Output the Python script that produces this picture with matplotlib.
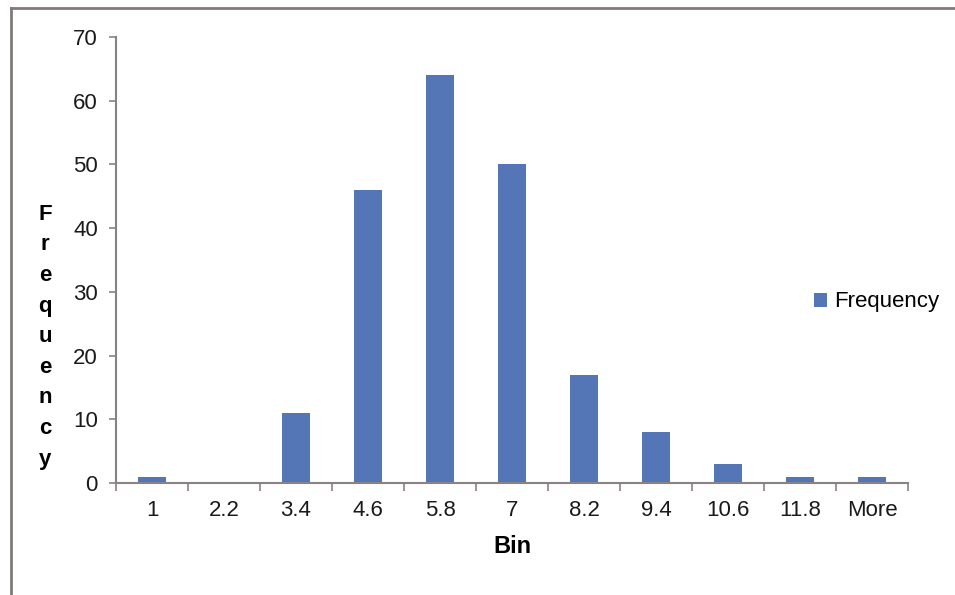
import matplotlib.pyplot as plt
from matplotlib.lines import Line2D

bins = ['1', '2.2', '3.4', '4.6', '5.8', '7', '8.2', '9.4', '10.6', '11.8', 'More']
frequency = [1, 0, 11, 46, 64, 50, 17, 8, 3, 1, 1]
y_ticks = [0, 10, 20, 30, 40, 50, 60, 70]

plt.rcParams['font.family'] = ['Liberation Sans', 'DejaVu Sans']
grey = '#878382'
bar_color = '#5475b6'

fig = plt.figure(figsize=(9.55, 5.95), dpi=100)
ax = fig.add_axes([0.1215, 0.1882, 0.8293, 0.7496])

x = range(len(bins))
ax.bar(x, frequency, width=0.4, color=bar_color, label='Frequency')

ax.set_xlim(-0.5, len(bins) - 0.5)
ax.set_ylim(0, 70)
ax.set_yticks(y_ticks)
ax.set_xticks(list(x))
ax.set_xticklabels(bins)
ax.tick_params(axis='both', labelsize=16, colors='#1a1a1a')
ax.tick_params(axis='x', length=0, pad=12)
ax.tick_params(axis='y', length=5, width=1.2, color=grey, direction='out', pad=8)
# category boundary ticks
ax.set_xticks([i - 0.5 for i in range(len(bins) + 1)], minor=True)
ax.tick_params(axis='x', which='minor', length=6, width=1.2, color=grey, direction='out')

for side in ['top', 'right']:
    ax.spines[side].set_visible(False)
for side in ['left', 'bottom']:
    ax.spines[side].set_color(grey)
    ax.spines[side].set_linewidth(1.5)

ax.set_xlabel('Bin', fontsize=17, fontweight='bold', labelpad=10)
fig.text(0.047, 0.434, '\n'.join('Frequency'), fontsize=16, fontweight='bold',
         ha='center', va='center', linespacing=1.6)

ax.legend(loc='center left', bbox_to_anchor=(0.856, 0.406), frameon=False,
          fontsize=16, handlelength=0.6, handleheight=0.6, handletextpad=0.3)

# outer frame (left and top only visible)
fig.add_artist(Line2D([0.011, 0.011], [0, 0.987], color='#807a78', lw=2))
fig.add_artist(Line2D([0.011, 1], [0.987, 0.987], color='#807a78', lw=2))

fig.savefig('out.png', dpi=100)
